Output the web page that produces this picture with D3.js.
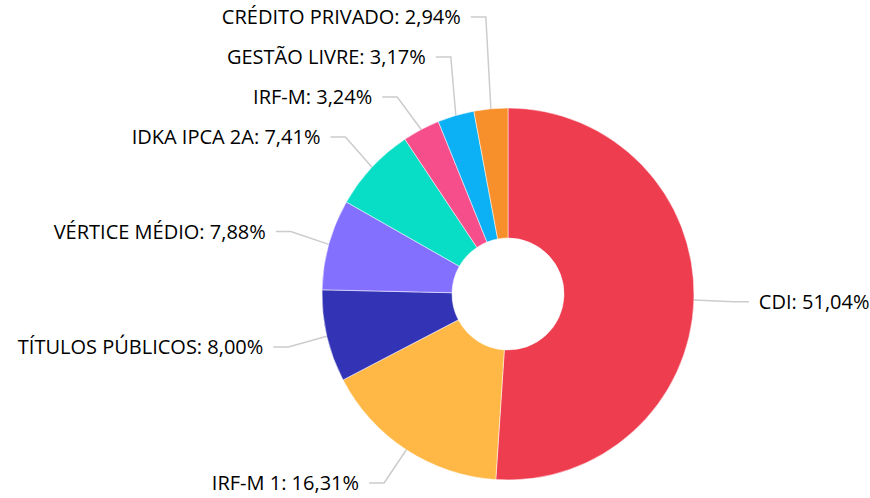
<!DOCTYPE html>
<html>
<head>
<meta charset="utf-8">
<script src="https://cdn.jsdelivr.net/npm/d3@7"></script>
<style>
  html, body { margin: 0; padding: 0; background: #fff; }
  svg { display: block; }
  text { font-family: "Open Sans", sans-serif; font-size: 20px; fill: #000; }
</style>
</head>
<body>
<div id="chart"></div>
<script>
const categories = ["CDI", "IRF-M 1", "TÍTULOS PÚBLICOS", "VÉRTICE MÉDIO", "IDKA IPCA 2A", "IRF-M", "GESTÃO LIVRE", "CRÉDITO PRIVADO"];
const values = [51.04, 16.31, 8.00, 7.88, 7.41, 3.24, 3.17, 2.94];
const colors = ["#EF3D50", "#FFB845", "#3333B5", "#8470FF", "#08DDC5", "#F64E8B", "#0BB1F4", "#F78F2B"];

const width = 870, height = 498;
const cx = 508, cy = 294;
const outerR = 186, innerR = 56;

const svg = d3.select("#chart").append("svg")
  .attr("width", width)
  .attr("height", height);

const pie = d3.pie().sort(null).value(d => d);
const arcs = pie(values);
const arc = d3.arc().innerRadius(innerR).outerRadius(outerR);

const g = svg.append("g").attr("transform", `translate(${cx},${cy})`);

// label layout: natural position, then push apart on each side
const labelR = outerR + 48, bendR = 226, gap = 40, yMin = 17, yMax = 483;
const labels = arcs.map((a, i) => {
  const mid = (a.startAngle + a.endAngle) / 2;
  return { i, mid, left: mid > Math.PI, y: cy - labelR * Math.cos(mid) };
});

[true, false].forEach(side => {
  const list = labels.filter(l => l.left === side).sort((a, b) => a.y - b.y);
  for (let k = list.length - 1; k >= 0; k--) {
    const lim = k === list.length - 1 ? yMax : list[k + 1].y - gap;
    list[k].y = Math.min(list[k].y, lim);
  }
  for (let k = 0; k < list.length; k++) {
    const lim = k === 0 ? yMin : list[k - 1].y + gap;
    list[k].y = Math.max(list[k].y, lim);
  }
});

// connectors
labels.forEach(l => {
  const ex = cx + outerR * Math.sin(l.mid);
  const ey = cy - outerR * Math.cos(l.mid);
  const dy = l.y - cy;
  const dx = Math.sqrt(Math.max(0, bendR * bendR - dy * dy));
  let bx = l.left ? cx - dx : cx + dx;
  bx = l.left ? Math.min(bx, ex - 5) : Math.max(bx, ex + 5);
  l.bx = bx;
  const sx = l.left ? bx - 15 : bx + 15;
  svg.append("path")
    .attr("d", d3.line()([[sx, l.y], [bx, l.y], [ex, ey]]))
    .attr("fill", "none")
    .attr("stroke", "#cccccc")
    .attr("stroke-width", 1.5);
});

g.selectAll("path.slice")
  .data(arcs)
  .enter()
  .append("path")
  .attr("class", "slice")
  .attr("d", arc)
  .attr("fill", (d, i) => colors[i])
  .attr("stroke", "#fff")
  .attr("stroke-width", 0.5);

const fmt = v => v.toFixed(2).replace(".", ",") + "%";

labels.forEach(l => {
  svg.append("text")
    .attr("x", l.left ? l.bx - 25 : l.bx + 25)
    .attr("y", l.y)
    .attr("dy", "0.35em")
    .attr("text-anchor", l.left ? "end" : "start")
    .text(`${categories[l.i]}: ${fmt(values[l.i])}`);
});
</script>
</body>
</html>
